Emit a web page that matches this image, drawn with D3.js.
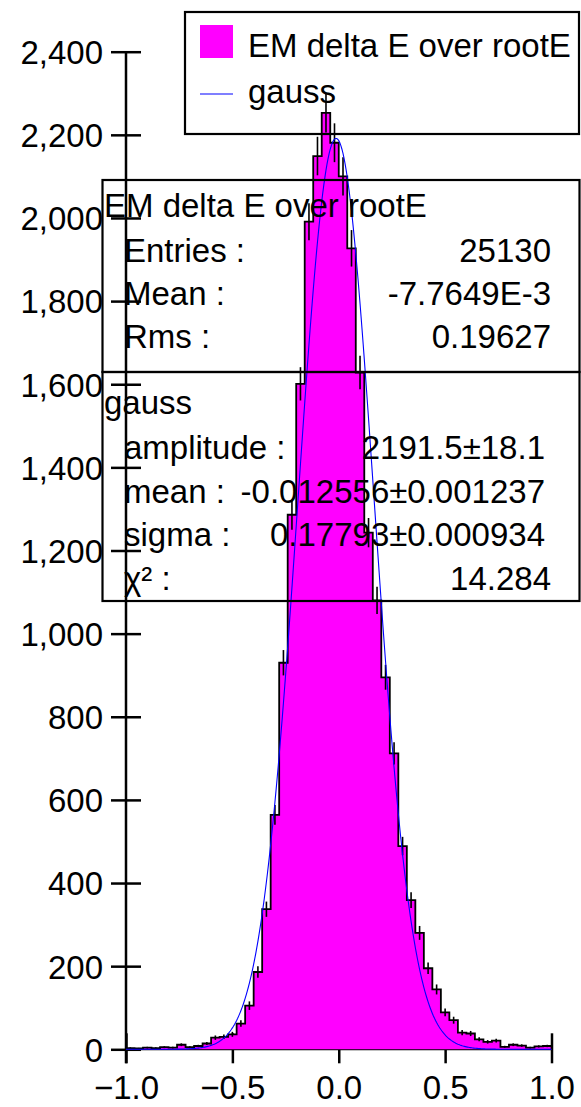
<!DOCTYPE html>
<html>
<head>
<meta charset="utf-8">
<script src="https://cdn.jsdelivr.net/npm/d3@7/dist/d3.min.js"></script>
<style>
  html, body { margin: 0; padding: 0; background: #fff; }
  svg { display: block; font-family: "Liberation Sans", Arial, sans-serif; }
</style>
</head>
<body>
<svg id="chart" width="581" height="1107"></svg>
<script>
// ---------------- data ----------------
const binLow = -1.0;
const binHigh = 1.0;
const binCounts = [
  3, 2, 4, 3, 5, 4, 11, 5, 8, 14,
  28, 30, 36, 62, 105, 186, 337, 564, 930, 1286,
  1601, 1991, 2149, 2253, 2181, 2100, 1927, 1628, 1243, 1080,
  895, 712, 489, 359, 280, 195, 144, 89, 70, 40,
  38, 24, 18, 21, 6, 11, 9, 4, 7, 8
];
const yTicks = [0, 200, 400, 600, 800, 1000, 1200, 1400, 1600, 1800, 2000, 2200, 2400];
const xTicks = [-1.0, -0.5, 0.0, 0.5, 1.0];

// gauss fit parameters (shown in the fit box)
const fitAmplitude = 2191.5;
const fitMean = -0.012556;
const fitSigma = 0.17793;

const legendLabels = ["EM delta E over rootE", "gauss"];
const statsTitle = "EM delta E over rootE";
const statsLabels = ["Entries :", "Mean :", "Rms :"];
const statsValues = ["25130", "-7.7649E-3", "0.19627"];
const fitTitle = "gauss";
const fitLabels = ["amplitude :", "mean :", "sigma :", "χ² :"];
const fitValues = ["2191.5±18.1", "-0.012556±0.001237", "0.17793±0.000934", "14.284"];

// ---------------- layout ----------------
const svg = d3.select("#chart");
const FONT = 33;
const x = d3.scaleLinear().domain([binLow, binHigh]).range([126, 551.5]);
const y = d3.scaleLinear().domain([0, 2400]).range([1049.3, 51.7]);
const nb = binCounts.length;
const bw = (binHigh - binLow) / nb;
const bins = binCounts.map((c, i) => ({ x0: binLow + i * bw, x1: binLow + (i + 1) * bw, c }));

// axes (drawn first, histogram on top)
const gy = svg.append("g").attr("transform", `translate(${x(binLow)},0)`)
  .call(d3.axisLeft(y).tickValues(yTicks).tickFormat(d3.format(",")).tickSizeInner(15).tickSizeOuter(0).tickPadding(8));
gy.select(".domain").remove();
gy.selectAll(".tick line").attr("x1", -15).attr("x2", 15).attr("stroke", "#000").attr("stroke-width", 2.5);
gy.selectAll(".tick text").attr("font-size", FONT).attr("fill", "#000").attr("dy", "0.36em").attr("x", -23)
  .attr("font-family", "Liberation Sans, Arial, sans-serif");
svg.append("line").attr("x1", x(binLow)).attr("x2", x(binLow)).attr("y1", y(2400)).attr("y2", y(0) + 14)
  .attr("stroke", "#000").attr("stroke-width", 2.5);

const gx = svg.append("g").attr("transform", `translate(0,${y(0)})`)
  .call(d3.axisBottom(x).tickValues(xTicks).tickFormat(d3.format(".1f")).tickSizeInner(14).tickSizeOuter(0).tickPadding(10));
gx.select(".domain").remove();
gx.selectAll(".tick line").attr("y1", -16).attr("y2", 14).attr("stroke", "#000").attr("stroke-width", 2.5);
gx.selectAll(".tick text").attr("font-size", FONT).attr("fill", "#000").attr("y", 50).attr("dy", 0)
  .attr("font-family", "Liberation Sans, Arial, sans-serif");
svg.append("line").attr("x1", x(binLow)).attr("x2", x(binHigh)).attr("y1", y(0)).attr("y2", y(0))
  .attr("stroke", "#000").attr("stroke-width", 2);

// histogram fill
const stepPts = [[x(binLow), y(0)]];
bins.forEach(b => { stepPts.push([x(b.x0), y(b.c)]); stepPts.push([x(b.x1), y(b.c)]); });
stepPts.push([x(binHigh), y(0)]);
svg.append("path").attr("d", d3.line()(stepPts)).attr("fill", "#ff00ff").attr("stroke", "none");
svg.append("path").attr("d", d3.line()(stepPts)).attr("fill", "none").attr("stroke", "#000")
  .attr("stroke-width", 1.8).attr("stroke-linejoin", "miter");

// error bars
svg.append("g").selectAll("line").data(bins).join("line")
  .attr("x1", b => x((b.x0 + b.x1) / 2)).attr("x2", b => x((b.x0 + b.x1) / 2))
  .attr("y1", b => y(b.c + Math.sqrt(b.c))).attr("y2", b => y(Math.max(0, b.c - Math.sqrt(b.c))))
  .attr("stroke", "#000").attr("stroke-width", 1.6);

// gauss fit curve
const gauss = v => fitAmplitude * Math.exp(-0.5 * Math.pow((v - fitMean) / fitSigma, 2));
const curveX = d3.range(0, 401).map(i => binLow + (binHigh - binLow) * i / 400);
svg.append("path").datum(curveX)
  .attr("d", d3.line().x(v => x(v)).y(v => y(gauss(v))))
  .attr("fill", "none").attr("stroke", "#0000ff").attr("stroke-width", 1.1);

// legend
const lg = svg.append("g");
lg.append("rect").attr("x", 185).attr("y", 12).attr("width", 394).attr("height", 122)
  .attr("fill", "none").attr("stroke", "#000").attr("stroke-width", 2.2);
lg.append("rect").attr("x", 200).attr("y", 25).attr("width", 33).attr("height", 33).attr("fill", "#ff00ff");
lg.append("line").attr("x1", 200).attr("x2", 233).attr("y1", 94).attr("y2", 94).attr("stroke", "#0000ff").attr("stroke-width", 1.1);
lg.selectAll("text").data(legendLabels).join("text")
  .attr("x", 248).attr("y", (d, i) => 57 + i * 46).attr("font-size", FONT).text(d => d);

// stats boxes
const bx0 = 102.5, bx1 = 579.5;
svg.append("rect").attr("x", bx0).attr("y", 180).attr("width", bx1 - bx0).attr("height", 192)
  .attr("fill", "none").attr("stroke", "#000").attr("stroke-width", 2.2);
svg.append("rect").attr("x", bx0).attr("y", 372).attr("width", bx1 - bx0).attr("height", 229)
  .attr("fill", "none").attr("stroke", "#000").attr("stroke-width", 2.2);

const st = svg.append("g").attr("font-size", FONT).attr("fill", "#000");
st.append("text").attr("x", 104).attr("y", 217).text(statsTitle);
st.selectAll("text.sl").data(statsLabels).join("text").attr("class", "sl")
  .attr("x", 124).attr("y", (d, i) => 262 + i * 43).text(d => d);
st.selectAll("text.sv").data(statsValues).join("text").attr("class", "sv")
  .attr("x", 551).attr("y", (d, i) => 262 + i * 43).attr("text-anchor", "end").text(d => d);

st.append("text").attr("x", 104).attr("y", 414).text(fitTitle);
st.selectAll("text.fl").data(fitLabels).join("text").attr("class", "fl")
  .attr("x", 124).attr("y", (d, i) => 459 + i * 43.5).text(d => d);
st.selectAll("text.fv").data(fitValues).join("text").attr("class", "fv")
  .attr("x", (d, i) => i === fitValues.length - 1 ? 551 : 545)
  .attr("y", (d, i) => 459 + i * 43.5).attr("text-anchor", "end").text(d => d);
</script>
</body>
</html>
